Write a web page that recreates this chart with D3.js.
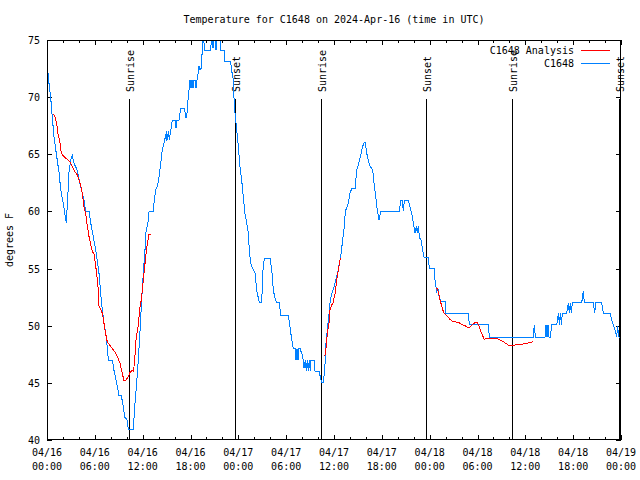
<!DOCTYPE html>
<html>
<head>
<meta charset="utf-8">
<script src="https://cdn.jsdelivr.net/npm/d3@7"></script>
<style>
  body { margin: 0; background: #fff; }
  svg { display: block; }
  text { font-family: "DejaVu Sans Mono", monospace; font-size: 10px; fill: #000; }
</style>
</head>
<body>
<svg id="chart" width="640" height="480"></svg>
<script>
// ---- Data (hours since 04/16 00:00 UTC, degrees F) ----
const titleText = "Temperature for C1648 on 2024-Apr-16 (time in UTC)";
const yLabel = "degrees F";
const xTickDates = ["04/16","04/16","04/16","04/16","04/17","04/17","04/17","04/17","04/18","04/18","04/18","04/18","04/19"];
const xTickTimes = ["00:00","06:00","12:00","18:00","00:00","06:00","12:00","18:00","00:00","06:00","12:00","18:00","00:00"];
const yTicks = [40,45,50,55,60,65,70,75];
const seriesNames = ["C1648 Analysis", "C1648"];
const seriesColors = ["#ff0000", "#0080ff"];

const sunEvents = ["Sunrise","Sunset","Sunrise","Sunset","Sunrise","Sunset"];
const sunHours  = [10.32, 23.52, 34.37, 47.54, 58.37, 71.75];

// Observations (C1648)
const obsTime = [0.0,0.13,0.25,0.46,0.66,0.88,1.22,1.51,1.72,2.04,2.35,2.42,2.63,2.76,2.97,3.17,3.39,3.80,4.01,4.30,4.64,4.85,5.27,5.48,5.81,6.11,6.31,6.52,6.74,6.94,7.15,7.36,7.56,7.69,8.19,8.40,8.74,9.03,9.32,9.57,9.75,10.07,10.20,10.83,11.00,11.25,11.45,11.67,11.88,12.08,12.29,12.42,12.67,12.80,13.30,13.42,13.64,13.84,14.05,14.26,14.46,14.68,15.00,15.05,15.22,15.34,15.52,15.72,16.06,16.18,16.31,16.56,16.77,17.27,17.37,17.52,17.69,17.94,18.06,18.19,18.31,18.44,18.60,18.69,18.82,18.94,19.07,19.19,19.32,19.48,19.61,19.76,20.53,20.66,20.82,20.99,21.20,21.41,21.64,21.79,22.24,22.33,23.04,23.17,23.37,23.50,23.71,24.00,24.21,24.42,24.62,24.84,25.05,25.25,25.38,25.55,25.80,26.09,26.31,26.63,26.93,27.06,27.26,27.97,28.19,28.39,28.60,28.81,29.14,29.32,30.27,30.48,30.70,30.90,31.11,31.24,31.36,31.49,31.61,31.74,32.08,32.24,32.40,32.53,32.65,32.78,32.90,33.03,33.12,33.49,33.62,34.12,34.33,34.46,34.67,34.87,35.00,35.16,35.34,35.50,35.71,36.00,36.34,36.54,36.88,37.09,37.29,37.42,37.80,38.01,38.22,38.64,38.85,39.05,39.35,39.60,39.76,39.93,40.10,40.43,40.86,41.02,41.23,41.43,41.65,41.86,44.19,44.37,44.57,44.70,44.82,45.32,45.53,45.75,45.95,46.16,46.32,46.45,46.58,46.73,46.88,47.13,47.29,47.83,47.96,48.55,48.67,48.80,48.89,49.05,49.18,49.43,49.93,49.96,52.85,52.97,55.36,55.49,61.00,61.13,61.25,61.43,62.47,62.60,62.72,62.85,62.97,63.14,63.31,63.94,64.15,64.27,64.40,64.52,64.65,65.19,65.40,65.52,65.65,65.77,65.90,67.07,67.27,67.40,68.53,68.70,68.83,69.58,69.78,70.62,70.84,71.04,71.26,71.47,71.56,71.75,72.0];
const obsTemp = [72.3,72.1,71.2,70.0,68.3,66.5,64.8,63.4,61.9,60.7,59.3,59.0,61.6,63.4,64.5,64.9,64.2,63.6,62.8,62.0,61.0,60.0,60.0,59.0,57.8,56.6,55.7,54.6,52.8,51.4,50.2,49.4,48.1,47.0,47.0,46.1,45.0,43.9,43.9,42.9,42.0,41.75,40.9,40.9,42.9,45.0,47.0,49.6,52.3,54.6,56.6,58.2,59.1,60.0,60.0,60.7,61.9,62.2,63.0,64.2,65.4,66.0,67.0,66.2,67.0,66.3,67.0,68.0,68.0,67.3,68.0,68.0,69.0,69.0,68.2,68.2,69.75,71.5,70.8,71.5,70.8,71.5,71.5,70.8,71.5,72.0,72.7,72.4,72.5,74.1,75.5,74.1,74.1,75.5,74.3,75.5,74.1,75.5,75.5,74.1,74.1,73.1,73.1,72.3,71.5,69.2,67.7,65.7,63.9,62.75,61.3,59.8,59.0,58.1,56.6,55.5,55.0,54.6,53.1,52.0,52.0,54.6,55.9,55.9,54.9,53.1,52.4,52.0,52.0,50.9,50.9,49.9,48.75,48.0,48.0,47.0,48.0,47.0,48.0,48.0,47.3,46.3,47.0,46.0,47.0,46.0,47.0,46.0,47.0,47.0,46.0,46.0,45.4,45.0,45.0,46.6,48.5,49.6,50.8,52.0,52.8,53.4,54.3,54.9,56.3,57.5,58.7,60.0,60.7,61.6,62.0,62.0,63.6,64.1,64.9,65.7,66.0,66.0,65.1,64.1,63.6,62.5,61.3,60.1,59.25,60.0,60.0,61.0,61.0,60.0,61.0,61.0,60.4,59.8,59.0,58.1,58.7,58.1,58.7,57.6,57.6,56.6,56.0,56.0,55.0,55.0,54.0,53.4,53.0,53.2,52.6,52.1,52.1,51.1,51.1,50.1,50.1,49.0,49.0,50.1,49.0,49.0,49.0,50.1,49.0,50.1,49.0,49.0,50.1,50.1,51.1,50.1,51.1,50.1,51.1,51.1,52.0,51.1,52.0,51.1,52.0,52.0,53.0,52.0,52.0,51.1,52.0,52.0,51.1,51.1,50.5,50.1,49.6,49.0,50.0,49.0,49.0];

// Analysis (C1648 Analysis), null = gap
const anaTime = [0.79,1.00,1.22,1.38,1.63,1.79,2.13,2.55,2.89,3.17,3.47,3.80,4.14,4.43,4.64,4.85,5.06,5.27,5.68,5.90,6.11,6.23,6.40,6.52,6.74,6.94,7.15,7.36,7.56,7.78,8.19,8.62,8.91,9.16,9.45,9.66,9.87,10.16,10.41,10.70,10.85,11.00,11.16,11.42,11.67,11.83,12.08,12.26,12.42,12.58,12.80,13.01,
  20.0,
  34.78,34.93,35.16,35.37,35.50,35.71,35.88,36.13,36.34,36.54,36.75,36.88,
  42.0,
  48.89,49.09,49.30,49.64,49.80,50.14,50.55,50.97,51.60,52.02,52.43,52.85,53.06,53.40,53.69,53.98,54.23,54.53,54.86,55.16,56.20,56.74,57.24,57.87,58.49,59.33,60.17,60.93];
const anaTemp = [68.5,68.3,67.7,66.8,66.0,65.1,64.8,64.55,64.35,63.9,63.5,63.2,62.5,61.6,60.4,59.8,58.7,57.8,56.5,56.3,55.2,54.6,53.4,51.7,51.4,51.1,50.2,49.3,48.6,48.4,48.0,47.6,47.15,46.7,45.8,45.2,45.2,45.5,45.9,46.1,46.0,47.0,48.75,49.9,51.7,52.25,54.0,55.2,56.3,57.2,58.0,58.0,
  null,
  47.4,47.5,49.3,50.2,51.4,51.8,52.0,52.8,54.0,54.9,55.75,55.9,
  null,
  53.3,53.0,52.25,51.4,51.1,50.9,50.55,50.35,50.3,50.1,50.0,49.8,49.9,50.1,50.3,50.3,49.9,49.3,48.8,48.9,48.9,48.8,48.6,48.3,48.3,48.35,48.45,48.6];

// ---- Layout ----
const svg = d3.select("#chart");
const L = 47, R = 621, T = 40, B = 440;
const x = d3.scaleLinear().domain([0, 72]).range([L, R]);
const y = d3.scaleLinear().domain([40, 75]).range([B, T]);

svg.append("defs").append("clipPath").attr("id", "plotclip")
  .append("rect").attr("x", L).attr("y", T).attr("width", R - L).attr("height", B - T);

// Title
svg.append("text").attr("x", 334).attr("y", 23).attr("text-anchor", "middle").text(titleText);

// Y label
svg.append("text").attr("transform", "translate(13,240) rotate(-90)")
  .attr("text-anchor", "middle").text(yLabel);

// Axes via d3
const majorX = d3.range(0, 73, 6);
const minorX = d3.range(0, 73, 2).filter(h => h % 6 !== 0);

const gBottom = svg.append("g").attr("transform", `translate(0,${B})`)
  .call(d3.axisTop(x).tickValues(majorX).tickSize(5).tickFormat(() => ""));
const gBottomMinor = svg.append("g").attr("transform", `translate(0,${B})`)
  .call(d3.axisTop(x).tickValues(minorX).tickSize(3).tickFormat(() => ""));
const gTop = svg.append("g").attr("transform", `translate(0,${T})`)
  .call(d3.axisBottom(x).tickValues(majorX).tickSize(5).tickFormat(() => ""));
const gTopMinor = svg.append("g").attr("transform", `translate(0,${T})`)
  .call(d3.axisBottom(x).tickValues(minorX).tickSize(3).tickFormat(() => ""));
const gLeft = svg.append("g").attr("transform", `translate(${L},0)`)
  .call(d3.axisRight(y).tickValues(yTicks).tickSize(5).tickFormat(() => ""));
const gRight = svg.append("g").attr("transform", `translate(${R},0)`)
  .call(d3.axisLeft(y).tickValues(yTicks).tickSize(5).tickFormat(() => ""));
[gBottom, gBottomMinor, gTop, gTopMinor, gLeft, gRight].forEach(g => {
  g.select(".domain").remove();
  g.selectAll("line").attr("stroke", "#000").attr("shape-rendering", "crispEdges");
});

// X tick labels (two lines)
const xl = svg.append("g");
majorX.forEach((h, i) => {
  const t = xl.append("text").attr("x", x(h)).attr("y", 456).attr("text-anchor", "middle");
  t.append("tspan").attr("x", x(h)).attr("dy", 0).text(xTickDates[i]);
  t.append("tspan").attr("x", x(h)).attr("dy", 14).text(xTickTimes[i]);
});

// Y tick labels
svg.append("g").selectAll("text").data(yTicks).join("text")
  .attr("x", 40).attr("y", d => y(d) + 4).attr("text-anchor", "end").text(d => d);

// Sun lines and labels
const sun = svg.append("g");
sunHours.forEach((h, i) => {
  const xx = Math.round(x(h)) + 0.5;
  sun.append("line").attr("x1", xx).attr("x2", xx).attr("y1", 99).attr("y2", B)
    .attr("stroke", "#000").attr("stroke-width", 1).attr("shape-rendering", "crispEdges");
  sun.append("text").attr("transform", `translate(${xx + 4},92) rotate(-90)`)
    .attr("text-anchor", "start").text(sunEvents[i]);
});

// Data lines
const obs = obsTime.map((t, i) => [t, obsTemp[i]]);
const ana = anaTime.map((t, i) => [t, anaTemp[i]]);
const line = d3.line().defined(d => d[1] !== null).x(d => x(d[0])).y(d => y(d[1]));
const plot = svg.append("g").attr("clip-path", "url(#plotclip)");
plot.append("path").datum(obs).attr("d", line).attr("fill", "none")
  .attr("stroke", seriesColors[1]).attr("stroke-width", 1).attr("shape-rendering", "crispEdges");
plot.append("path").datum(ana).attr("d", line).attr("fill", "none")
  .attr("stroke", seriesColors[0]).attr("stroke-width", 1).attr("shape-rendering", "crispEdges");

// Frame
svg.append("rect").attr("x", L + 0.5).attr("y", T + 0.5).attr("width", R - L - 1).attr("height", B - T - 1)
  .attr("fill", "none").attr("stroke", "#000").attr("shape-rendering", "crispEdges");

// Legend
const leg = svg.append("g");
seriesNames.forEach((name, i) => {
  const ly = 50 + i * 13;
  leg.append("text").attr("x", 574).attr("y", ly + 4).attr("text-anchor", "end").text(name);
  leg.append("line").attr("x1", 581).attr("x2", 610).attr("y1", ly + 0.5).attr("y2", ly + 0.5)
    .attr("stroke", seriesColors[i]).attr("stroke-width", 1).attr("shape-rendering", "crispEdges");
});
</script>
</body>
</html>
